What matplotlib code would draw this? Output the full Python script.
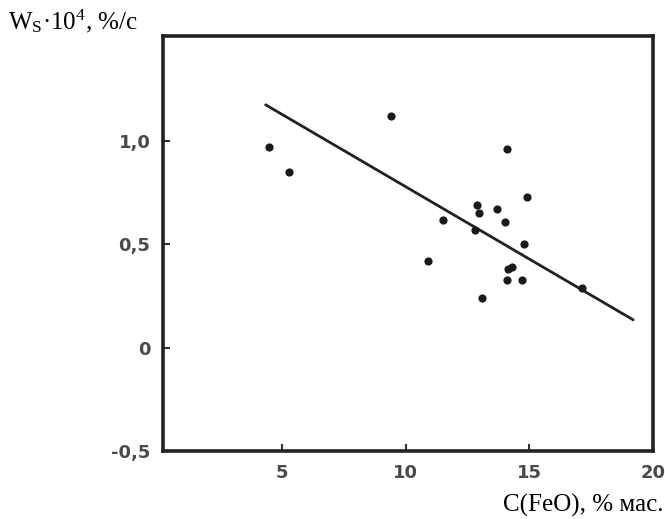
import numpy as np
import matplotlib
matplotlib.use("Agg")
import matplotlib.pyplot as plt

plt.rcParams['mathtext.fontset'] = 'custom'
plt.rcParams['mathtext.rm'] = 'Liberation Serif'
plt.rcParams['mathtext.it'] = 'Liberation Serif:italic'

# measured points, C(FeO) % vs W_S*10^4
feo = [4.5, 5.3, 9.4, 10.9, 11.5, 12.8, 12.9, 12.95, 13.1, 13.7, 14.0,
       14.1, 14.1, 14.15, 14.3, 14.7, 14.8, 14.9, 17.15]
ws = [0.97, 0.85, 1.12, 0.42, 0.62, 0.57, 0.69, 0.65, 0.24, 0.67, 0.61,
      0.96, 0.33, 0.38, 0.39, 0.33, 0.50, 0.73, 0.29]

# regression line ends
line_x = [4.35, 19.2]
line_y = [1.176, 0.135]

xticks = [5, 10, 15, 20]
yticks = [-0.5, 0, 0.5, 1.0]
ytick_labels = ['-0,5', '0', '0,5', '1,0']

fig = plt.figure(figsize=(6.65, 5.19), dpi=100)
ax = fig.add_axes([0.245, 0.131, 0.737, 0.80])

ax.plot(line_x, line_y, color='#222222', lw=2.0, solid_capstyle='round')
ax.scatter(feo, ws, s=24, color='#1a1a1a', zorder=3)

ax.set_xlim(0.2, 20)
ax.set_ylim(-0.5, 1.51)
ax.set_xticks(xticks)
ax.set_xticklabels([str(t) for t in xticks])
ax.set_yticks(yticks)
ax.set_yticklabels(ytick_labels)
ax.tick_params(direction='in', length=5, width=1.5, colors='#333333',
               labelsize=13, pad=9)
for lab in ax.get_xticklabels() + ax.get_yticklabels():
    lab.set_fontweight('bold')
    lab.set_color('#4a4a4a')
for sp in ax.spines.values():
    sp.set_linewidth(2.6)
    sp.set_color('#222222')

fig.text(0.012, 0.96, r'W$_\mathrm{S}$·10$^\mathrm{4}$, %/с', fontsize=18,
         family='Liberation Serif', va='center', ha='left')
fig.text(0.997, 0.027, 'C(FeO), % мас.', fontsize=18,
         family='Liberation Serif', va='center', ha='right')

fig.savefig('out.png', dpi=100)
